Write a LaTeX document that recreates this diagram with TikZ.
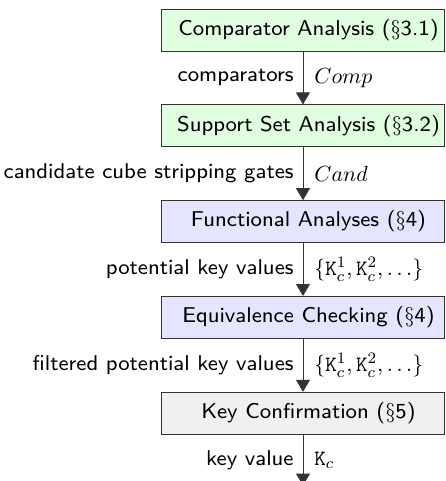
\documentclass[tikz,border=0pt]{standalone}
\usepackage{amssymb}
\usetikzlibrary{positioning,arrows.meta}
\newcommand{\sftext}[1]{\scalebox{1.34}{\fontsize{8}{10}\selectfont\sffamily #1}}
\newcommand{\mtext}[1]{{\fontsize{11}{13}\selectfont$#1$}}

\begin{document}
\begin{tikzpicture}[x=1pt,y=1pt,node distance=26.5pt]
\tikzstyle{stage}=[draw=black!80,minimum width=141.5pt,minimum height=21pt,inner xsep=0pt,
  execute at begin node=\hspace*{5.5pt}]
\tikzstyle{flow}=[draw=black!80,-{Triangle[width=7pt,length=6pt]}]
\tikzstyle{lab}=[inner sep=4.5pt]
\tikzstyle{sym}=[inner xsep=5.5pt]
\useasboundingbox (-151.5,15) rectangle (71,-225.5);
\node [stage,fill=green!12] (comp) at (0,0) {\sftext{Comparator Analysis ($\S$3.1)}};
\node [stage,fill=green!12,below=of comp] (supp) {\sftext{Support Set Analysis ($\S$3.2)}};
\node [stage,fill=blue!10,below=of supp] (func) {\sftext{Functional Analyses ($\S$4)}};
\node [stage,fill=blue!10,below=of func] (equiv) {\sftext{Equivalence Checking ($\S$4)}};
\node [stage,fill=black!6,below=of equiv] (conf) {\sftext{Key Confirmation ($\S$5)}};
\coordinate [below=25.5pt of conf] (out);
% arrows sit a little right of the box centres
\begin{scope}[xshift=1.2pt]
\draw [flow] (comp.south) -- node [lab,left] {\sftext{comparators}} node [sym,right] {\mtext{Comp}} (supp.north);
\draw [flow] (supp.south) -- node [lab,left] {\sftext{candidate cube stripping gates}} node [sym,right] {\mtext{Cand}} (func.north);
\draw [flow] (func.south) -- node [lab,left] {\sftext{potential key values}} node [sym,right] {\mtext{\{\mathtt{K}_c^1,\mathtt{K}_c^2,\dots\}}} (equiv.north);
\draw [flow] (equiv.south) -- node [lab,left] {\sftext{filtered potential key values}} node [sym,right] {\mtext{\{\mathtt{K}_c^1,\mathtt{K}_c^2,\dots\}}} (conf.north);
\draw [flow] (conf.south) -- node [lab,left] {\sftext{key value}} node [sym,right] {\mtext{\mathtt{K}_c}} (out);
\end{scope}
\end{tikzpicture}
\end{document}
